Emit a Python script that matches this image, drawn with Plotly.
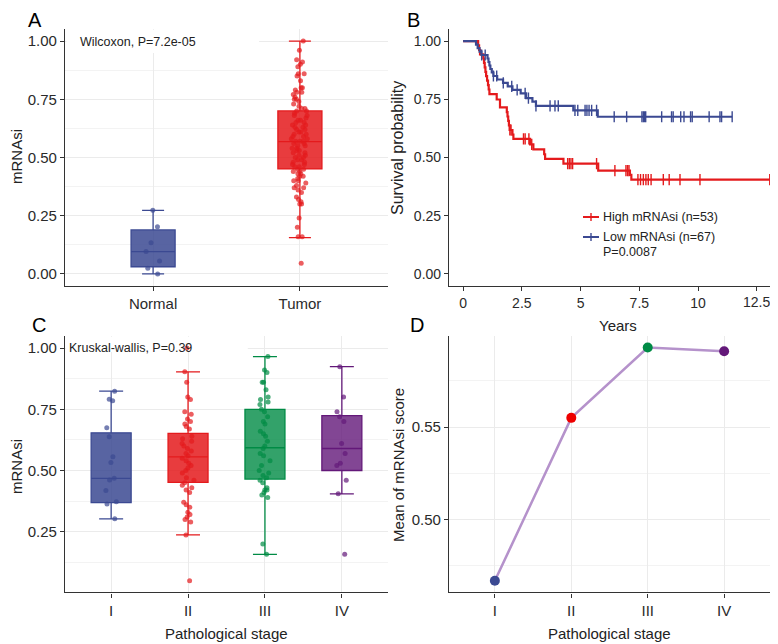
import plotly.graph_objects as go

# ---- Panel A: mRNAsi, normal vs tumor ----
groups_a = ["Normal", "Tumor"]
normal_vals = [0.0, 0.024, 0.056, 0.096, 0.134, 0.203, 0.273]
tumor_vals = [1.0, 0.96, 0.92, 0.91, 0.90, 0.89, 0.86, 0.86, 0.85, 0.83, 0.80, 0.80,
              0.79, 0.78, 0.78, 0.77, 0.76, 0.75, 0.75, 0.74, 0.73, 0.72, 0.71, 0.71,
              0.70, 0.70, 0.69, 0.68, 0.68, 0.67, 0.66, 0.66, 0.65, 0.65, 0.64, 0.64,
              0.63, 0.63, 0.62, 0.62, 0.61, 0.61, 0.60, 0.60, 0.59, 0.59, 0.58, 0.58,
              0.57, 0.57, 0.57, 0.56, 0.56, 0.55, 0.55, 0.54, 0.54, 0.53, 0.53, 0.52,
              0.52, 0.51, 0.51, 0.50, 0.50, 0.49, 0.49, 0.48, 0.48, 0.47, 0.47, 0.46,
              0.46, 0.45, 0.45, 0.44, 0.44, 0.43, 0.43, 0.42, 0.42, 0.41, 0.40, 0.40,
              0.39, 0.38, 0.37, 0.37, 0.36, 0.35, 0.33, 0.32, 0.31, 0.30, 0.30, 0.24,
              0.20, 0.16, 0.16, 0.046]
box_a_q1 = [0.031, 0.451]
box_a_median = [0.096, 0.568]
box_a_q3 = [0.189, 0.700]
box_a_lower = [0.0, 0.156]
box_a_upper = [0.273, 1.0]

# ---- Panel B: Kaplan-Meier ----
high_time = [0, 0.64, 0.68, 0.72, 0.86, 0.89, 0.92, 0.95, 0.98, 1.02, 1.06, 1.09, 1.12,
             1.43, 1.57, 1.86, 1.89, 1.92, 1.95, 1.98, 2.10, 2.14, 2.85, 2.99, 3.45,
             3.49, 4.27, 5.75, 7.10, 7.16]
high_surv = [1.0, 0.981, 0.962, 0.943, 0.925, 0.906, 0.887, 0.868, 0.849, 0.830, 0.811,
             0.792, 0.772, 0.749, 0.715, 0.695, 0.676, 0.657, 0.638, 0.618, 0.598, 0.580,
             0.556, 0.535, 0.514, 0.494, 0.474, 0.444, 0.425, 0.405]
high_censor = [1.99, 2.04, 2.57, 2.64, 2.80, 2.92, 4.45, 4.52, 4.59, 4.66, 5.68, 6.46,
               6.93, 7.00, 7.06, 7.44, 7.55, 7.67, 7.78, 7.88, 8.00, 8.52, 8.77, 9.23,
               10.08, 13.05]
low_time = [0, 0.55, 0.62, 0.70, 0.78, 1.04, 1.08, 1.12, 1.16, 1.22, 1.29, 1.45, 1.70,
            1.90, 2.10, 2.45, 2.68, 2.95, 3.10, 4.69, 5.73]
low_surv = [1.0, 0.985, 0.970, 0.955, 0.940, 0.925, 0.910, 0.895, 0.880, 0.865, 0.850,
            0.835, 0.820, 0.805, 0.790, 0.775, 0.755, 0.740, 0.722, 0.702, 0.675]
low_censor = [0.79, 0.94, 1.29, 1.43, 1.71, 2.07, 2.30, 2.64, 2.78, 3.10, 3.70, 3.91,
              4.05, 4.76, 4.88, 5.19, 5.27, 5.36, 5.47, 5.68, 6.43, 6.96, 7.61, 7.67,
              7.72, 7.77, 8.45, 8.87, 8.94, 9.26, 9.40, 9.68, 9.75, 10.47, 10.93, 11.00,
              11.45]
years_ticks = [0, 2.5, 5, 7.5, 10, 12.5]
years_labels = ["0", "2.5", "5", "7.5", "10", "12.5"]

# ---- Panel C: mRNAsi by stage ----
stages = ["I", "II", "III", "IV"]
stage_i = [0.824, 0.791, 0.785, 0.675, 0.638, 0.556, 0.533, 0.468, 0.461, 0.418, 0.373,
           0.363, 0.303]
stage_ii = [1.0, 0.903, 0.86, 0.80, 0.79, 0.74, 0.73, 0.71, 0.70, 0.69, 0.68, 0.67, 0.64,
            0.63, 0.62, 0.61, 0.60, 0.59, 0.58, 0.57, 0.56, 0.55, 0.54, 0.53, 0.52, 0.51,
            0.50, 0.49, 0.47, 0.46, 0.45, 0.44, 0.43, 0.42, 0.41, 0.37, 0.36, 0.35, 0.33,
            0.32, 0.31, 0.30, 0.29, 0.237, 0.05]
stage_iii = [0.965, 0.91, 0.90, 0.86, 0.86, 0.83, 0.80, 0.79, 0.78, 0.77, 0.75, 0.74,
             0.72, 0.70, 0.69, 0.66, 0.65, 0.64, 0.62, 0.60, 0.59, 0.57, 0.56, 0.54,
             0.52, 0.50, 0.49, 0.48, 0.47, 0.46, 0.45, 0.43, 0.42, 0.42, 0.41, 0.40,
             0.39, 0.20, 0.158]
stage_iv = [0.924, 0.80, 0.74, 0.72, 0.70, 0.61, 0.57, 0.53, 0.52, 0.46, 0.405, 0.158]
box_c_q1 = [0.369, 0.452, 0.465, 0.500]
box_c_median = [0.468, 0.556, 0.593, 0.590]
box_c_q3 = [0.654, 0.652, 0.750, 0.724]
box_c_lower = [0.303, 0.237, 0.158, 0.405]
box_c_upper = [0.824, 0.903, 0.965, 0.924]

# ---- Panel D: mean by stage ----
stage_means = [0.467, 0.555, 0.593, 0.591]

BLUE, RED, GREEN, PURPLE = "#3B4992", "#EE0000", "#008B45", "#631879"
FILLS = ["rgba(59,73,146,0.85)", "rgba(228,26,28,0.85)",
         "rgba(0,139,69,0.8)", "rgba(99,24,121,0.8)"]
FONT = "Liberation Sans, Arial, Helvetica, sans-serif"

# the page body has an 8px margin, so the figure sits at (8, 8) in the window
OFF = 8
W, H = 778 - OFF, 644 - OFF


def px(x):
    return (x - OFF) / W


def py(y):
    return 1 - (y - OFF) / H


def surv_at(times, surv, t):
    s = surv[0]
    for ti, si in zip(times, surv):
        if ti <= t:
            s = si
    return s


fig = go.Figure()

# A boxes + jitter
a_colors = [BLUE, "#E41A1C"]
a_points = [normal_vals, tumor_vals]
for i, g in enumerate(groups_a):
    fig.add_trace(go.Box(
        x=[g], q1=[box_a_q1[i]], median=[box_a_median[i]], q3=[box_a_q3[i]],
        lowerfence=[box_a_lower[i]], upperfence=[box_a_upper[i]],
        width=0.3, whiskerwidth=0.5, fillcolor=FILLS[i],
        line=dict(color=a_colors[i], width=1.3), boxpoints=False,
        xaxis="x", yaxis="y", showlegend=False, hoverinfo="skip"))
    fig.add_trace(go.Box(
        x=[g] * len(a_points[i]), y=a_points[i], boxpoints="all", jitter=0.4,
        pointpos=0, width=0.3, fillcolor="rgba(0,0,0,0)",
        line=dict(color="rgba(0,0,0,0)", width=0),
        marker=dict(color=a_colors[i], size=5, opacity=0.7),
        xaxis="x", yaxis="y", showlegend=False))

# B Kaplan-Meier curves
for times, surv, cens, col in [(high_time, high_surv, high_censor, "#E41A1C"),
                               (low_time, low_surv, low_censor, BLUE)]:
    end = max(cens)
    fig.add_trace(go.Scatter(
        x=times + [end], y=surv + [surv[-1]], mode="lines",
        line=dict(color=col, width=2.2, shape="hv"),
        xaxis="x2", yaxis="y2", showlegend=False))
    fig.add_trace(go.Scatter(
        x=cens, y=[surv_at(times, surv, c) for c in cens], mode="markers",
        marker=dict(symbol="line-ns", size=8, line=dict(color=col, width=1.4)),
        xaxis="x2", yaxis="y2", showlegend=False))

# C boxes + jitter
c_points = [stage_i, stage_ii, stage_iii, stage_iv]
c_colors = [BLUE, "#E41A1C", GREEN, PURPLE]
for i, s in enumerate(stages):
    fig.add_trace(go.Box(
        x=[s], q1=[box_c_q1[i]], median=[box_c_median[i]], q3=[box_c_q3[i]],
        lowerfence=[box_c_lower[i]], upperfence=[box_c_upper[i]],
        width=0.52, whiskerwidth=0.6, fillcolor=FILLS[i],
        line=dict(color=c_colors[i], width=1.3), boxpoints=False,
        xaxis="x3", yaxis="y3", showlegend=False, hoverinfo="skip"))
    fig.add_trace(go.Box(
        x=[s] * len(c_points[i]), y=c_points[i], boxpoints="all", jitter=0.35,
        pointpos=0, width=0.52, fillcolor="rgba(0,0,0,0)",
        line=dict(color="rgba(0,0,0,0)", width=0),
        marker=dict(color=c_colors[i], size=5, opacity=0.7),
        xaxis="x3", yaxis="y3", showlegend=False))

# D mean line
fig.add_trace(go.Scatter(
    x=stages, y=stage_means, mode="lines",
    line=dict(color="#B592CB", width=2.5),
    xaxis="x4", yaxis="y4", showlegend=False))
fig.add_trace(go.Scatter(
    x=stages, y=stage_means, mode="markers",
    marker=dict(color=[BLUE, RED, GREEN, PURPLE], size=10),
    xaxis="x4", yaxis="y4", showlegend=False))

tickfont = dict(family=FONT, size=15, color="#2a2a2a")
grid = "#EBEBEB"
minor_grid = "#F3F3F3"


def cat_x(domain, anchor, rng):
    return dict(domain=domain, anchor=anchor, range=rng, type="category",
                showline=True, linecolor="#333", linewidth=1.2,
                ticks="outside", ticklen=4, tickcolor="#333",
                showgrid=True, gridcolor=grid, gridwidth=1,
                tickfont=tickfont, zeroline=False)


def num_y(domain, anchor, rng, dtick, minor_dtick, fmt, grid_on=True, font=tickfont):
    d = dict(domain=domain, anchor=anchor, range=rng, dtick=dtick, tick0=0,
             tickformat=fmt, showline=True, linecolor="#333", linewidth=1.2,
             ticks="outside", ticklen=4, tickcolor="#333",
             showgrid=grid_on, gridcolor=grid, gridwidth=1,
             tickfont=font, zeroline=False)
    if grid_on:
        d["minor"] = dict(dtick=minor_dtick, showgrid=True, gridcolor=minor_grid,
                          gridwidth=1)
    return d


dom_left = [px(65), px(388)]
dom_right = [px(449), px(770)]
dom_top = [py(285.6), py(29.4)]
dom_bot = [py(592.4), py(336.4)]

b_font = dict(family=FONT, size=14, color="#2a2a2a")

# the last year label sits at the panel edge and plotly drops it there,
# so it is written as a paper annotation below and left blank on the axis
axis_year_labels = years_labels[:-1] + [""]

fig.update_layout(
    width=W, height=H, margin=dict(l=0, r=0, t=0, b=0),
    paper_bgcolor="white", plot_bgcolor="white", boxmode="overlay",
    font=dict(family=FONT, color="#222"),
    xaxis=cat_x(dom_left, "y", [-0.6, 1.6]),
    yaxis=num_y(dom_top, "x", [-0.05, 1.05], 0.25, 0.125, ".2f"),
    xaxis2=dict(domain=dom_right, anchor="y2", range=[-0.6, 13.06],
                tickmode="array", tickvals=years_ticks, ticktext=axis_year_labels,
                showline=True, linecolor="#333", linewidth=1.2,
                ticks="outside", ticklen=4, tickcolor="#333", showgrid=False,
                tickfont=b_font, zeroline=False),
    yaxis2=num_y(dom_top, "x2", [-0.05, 1.05], 0.25, 0.125, ".2f",
                 grid_on=False, font=b_font),
    xaxis3=cat_x(dom_left, "y3", [-0.6, 3.6]),
    yaxis3=num_y(dom_bot, "x3", [0.0025, 1.0475], 0.25, 0.125, ".2f"),
    xaxis4=cat_x(dom_right, "y4", [-0.6, 3.6]),
    yaxis4=num_y(dom_bot, "x4", [0.4607, 0.599], 0.05, 0.025, ".2f"),
)

# white boxes behind the test labels (cover gridlines only)
fig.add_shape(type="rect", xref="x", yref="y",
              x0=-0.59, x1=-0.6 + (258 - 65) / 146, y0=1.05 - (53 - 29.4) / 232.9,
              y1=1.05, fillcolor="white", line=dict(width=0), layer="between")
fig.add_shape(type="rect", xref="x3", yref="y3",
              x0=-0.59, x1=-0.6 + (248 - 65) / 77, y0=1.0475 - (352 - 336.4) / 245,
              y1=1.0475, fillcolor="white", line=dict(width=0), layer="between")

annos = []


def text(x, y, s, size, xanchor="center", angle=0, color="#222"):
    annos.append(dict(x=px(x), y=py(y), xref="paper", yref="paper", text=s,
                      showarrow=False, xanchor=xanchor, yanchor="middle",
                      textangle=angle, borderpad=0,
                      font=dict(family=FONT, size=size, color=color)))


# panel letters
text(35, 20, "A", 20, color="black")
text(413, 20, "B", 20, color="black")
text(39, 325, "C", 20, color="black")
text(417, 325, "D", 20, color="black")

# axis titles
text(16, 157, "mRNAsi", 15, angle=-90)
text(398, 148, "Survival probability", 16, angle=-90)
text(618, 325, "Years", 15)
text(16, 467, "mRNAsi", 15, angle=-90)
text(226, 633, "Pathological stage", 15)
text(398, 465, "Mean of mRNAsi score", 15, angle=-90)
text(609, 633, "Pathological stage", 15)

# last tick label of the Years axis
text(756, 302, years_labels[-1], 14, color="#2a2a2a")

# test labels
text(79, 42, "Wilcoxon, P=7.2e-05", 12.5, xanchor="left")
text(68, 348, "Kruskal-wallis, P=0.39", 12.5, xanchor="left")

# KM legend
for yy, col, lab in [(217, "#E41A1C", "High mRNAsi (n=53)"),
                     (237, BLUE, "Low mRNAsi (n=67)")]:
    fig.add_shape(type="line", xref="paper", yref="paper", x0=px(583), x1=px(599),
                  y0=py(yy), y1=py(yy), line=dict(color=col, width=2))
    fig.add_shape(type="line", xref="paper", yref="paper", x0=px(591), x1=px(591),
                  y0=py(yy - 4), y1=py(yy + 4), line=dict(color=col, width=1.4))
    text(602, yy, lab, 12.5, xanchor="left")
text(602, 252, "P=0.0087", 12.5, xanchor="left")

fig.update_layout(annotations=annos)
fig.write_html("out.html")
